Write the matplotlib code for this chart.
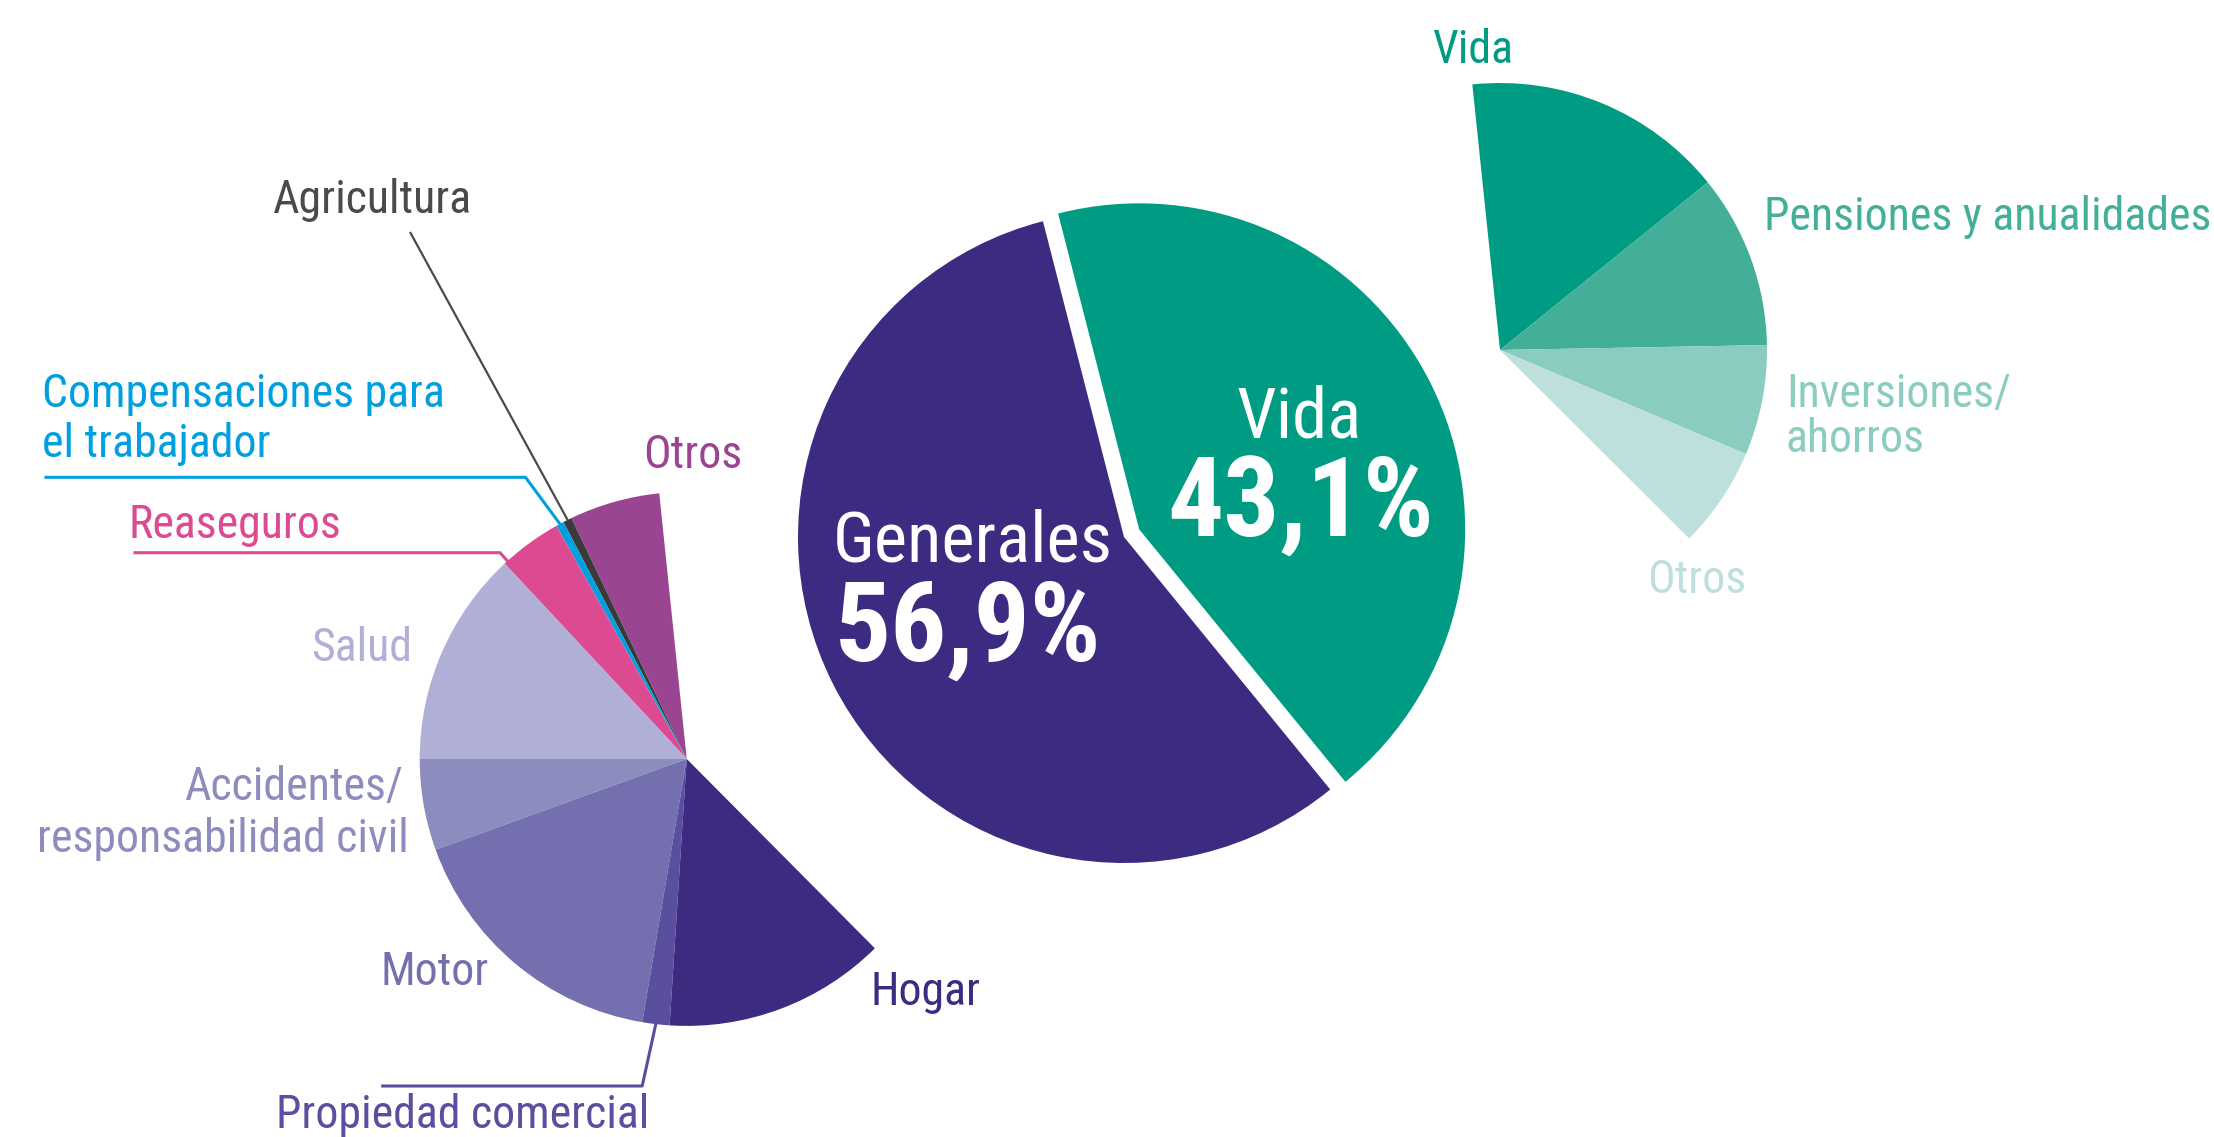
import matplotlib
matplotlib.use("Agg")
import matplotlib.pyplot as plt
from matplotlib import font_manager as fm

W, H = 2214, 1137

# ---- data ----
main_labels = ['Vida', 'Generales']
main_values = [43.1, 56.9]
main_colors = ['#009B83', '#3D2B82']

# breakdown wedges, share of the full circle (%) as drawn
gen_labels = ['Otros', 'Agricultura', 'Compensaciones para\nel trabajador', 'Reaseguros',
              'Salud', 'Accidentes/\nresponsabilidad civil', 'Motor',
              'Propiedad comercial', 'Hogar']
gen_values = [5.47, 0.53, 0.47, 3.83, 13.06, 5.53, 16.81, 1.64, 13.47]
gen_colors = ['#9A4592', '#3A3A3A', '#00A0E0', '#DC4A91', '#B0AFD6',
              '#8C8CBE', '#7470B0', '#5A4E9E', '#3D2B82']

vida_labels = ['Vida', 'Pensiones y anualidades', 'Inversiones/\nahorros', 'Otros']
vida_values = [15.85, 10.51, 6.66, 6.10]
vida_colors = ['#009B83', '#44AF98', '#8ACCBF', '#BEE0DD']

# ---- font: pick a condensed sans if one exists ----
entries = fm.fontManager.ttflist
cond_words = ('condensed', 'narrow')


def is_cond(e):
    s = str(e.stretch).lower()
    n = (e.name + ' ' + e.fname).lower()
    return ('condensed' in s and 'semi' not in s and 'extra' not in s and 'ultra' not in s) \
        or any(w in n for w in cond_words) and 'extra' not in n and 'semi' not in n


pref = ['liberation sans narrow', 'roboto condensed', 'open sans condensed',
        'noto sans', 'dejavu sans', 'open sans', 'roboto']


def weight_num(w):
    if isinstance(w, (int, float)):
        return w
    return {'normal': 400, 'regular': 400, 'bold': 700, 'light': 300}.get(str(w).lower(), 400)


def pick(bold):
    best, best_score = None, None
    for e in entries:
        if not is_cond(e):
            continue
        if str(e.style).lower() != 'normal':
            continue
        fl = e.fname.lower()
        if 'italic' in fl or 'oblique' in fl:
            continue
        nm = e.name.lower()
        rank = next((i for i, p in enumerate(pref) if nm.startswith(p)), len(pref))
        w = weight_num(e.weight)
        target = 700 if bold else 400
        score = (rank, abs(w - target))
        if best_score is None or score < best_score:
            best, best_score = e, score
    return best


reg = pick(False)
bld = pick(True)
if reg is not None:
    FP = fm.FontProperties(fname=reg.fname)
    FPB = fm.FontProperties(fname=bld.fname) if bld is not None else FP
    scale = 1.0
else:
    FP = fm.FontProperties(family='Roboto')
    FPB = fm.FontProperties(family='Roboto', weight='bold')
    scale = 0.9

fig = plt.figure(figsize=(W / 100, H / 100), dpi=100)
ax = fig.add_axes([0, 0, 1, 1])


def Y(py):
    return H - py


# main pie
ax.pie(main_values, startangle=104.4, counterclock=False, center=(1124, Y(537)),
       radius=326, explode=[17, 0], colors=main_colors,
       wedgeprops=dict(linewidth=0), frame=True)

# Generales breakdown (partial pie)
ax.pie([v / 100 for v in gen_values], normalize=False, startangle=95.9,
       counterclock=True, center=(686.7, Y(758.9)), radius=267,
       colors=gen_colors, wedgeprops=dict(linewidth=0), frame=True)

# Vida breakdown (partial pie)
ax.pie([v / 100 for v in vida_values], normalize=False, startangle=95.95,
       counterclock=False, center=(1500, Y(350)), radius=267,
       colors=vida_colors, wedgeprops=dict(linewidth=0), frame=True)

ax.set_xlim(0, W)
ax.set_ylim(0, H)
ax.set_aspect('equal')
ax.axis('off')

fs = 33 * scale


def T(x, y, s, color, size=fs, bold=False, ha='left'):
    ax.text(x, Y(y), s, color=color, fontproperties=(FPB if bold else FP),
            fontsize=size, ha=ha, va='baseline')


# main labels
T(973, 561.7, main_labels[1], 'white', size=51 * scale, ha='center')
T(968, 661, f"{main_values[1]:.1f}%".replace('.', ','), 'white', size=80 * scale,
  bold=True, ha='center')
T(1299, 437.6, main_labels[0], 'white', size=51 * scale, ha='center')
T(1301, 537, f"{main_values[0]:.1f}%".replace('.', ','), 'white', size=80 * scale,
  bold=True, ha='center')

# Generales breakdown labels
T(643, 468.3, gen_labels[0], gen_colors[0])
T(273, 213, gen_labels[1], '#4A4A4A')
c1, c2 = gen_labels[2].split('\n')
T(42, 406.7, c1, gen_colors[2])
T(42, 456.7, c2, gen_colors[2])
T(129, 538, gen_labels[3], gen_colors[3])
T(412, 660.7, gen_labels[4], gen_colors[4], ha='right')
a1, a2 = gen_labels[5].split('\n')
T(404, 800, a1, gen_colors[5], ha='right')
T(409, 851.7, a2, gen_colors[5], ha='right')
T(380, 985, gen_labels[6], gen_colors[6])
T(276, 1128, gen_labels[7], gen_colors[7])
T(871, 1005, gen_labels[8], gen_colors[8])

# leader lines
lw = 2.2
ax.plot([410, 567.6], [Y(232), Y(519.9)], color='#4A4A4A', lw=1.6, solid_capstyle='butt')
ax.plot([46, 525.5, 559.9], [Y(477.3), Y(477.3), Y(523.9)], color=gen_colors[2], lw=lw)
ax.plot([135, 500, 512], [Y(552.7), Y(552.7), Y(566)], color=gen_colors[3], lw=lw)
ax.plot([382.7, 642.2, 655.8], [Y(1086), Y(1086), Y(1024)], color=gen_colors[7], lw=lw)

# Vida breakdown labels
T(1432, 62.7, vida_labels[0], vida_colors[0])
T(1764, 230, vida_labels[1], vida_colors[1])
i1, i2 = vida_labels[2].split('\n')
T(1786, 407, i1, vida_colors[2])
T(1786, 451.7, i2, vida_colors[2])
T(1647, 592.7, vida_labels[3], vida_colors[3])

fig.savefig('out.png', dpi=100, facecolor='white')
